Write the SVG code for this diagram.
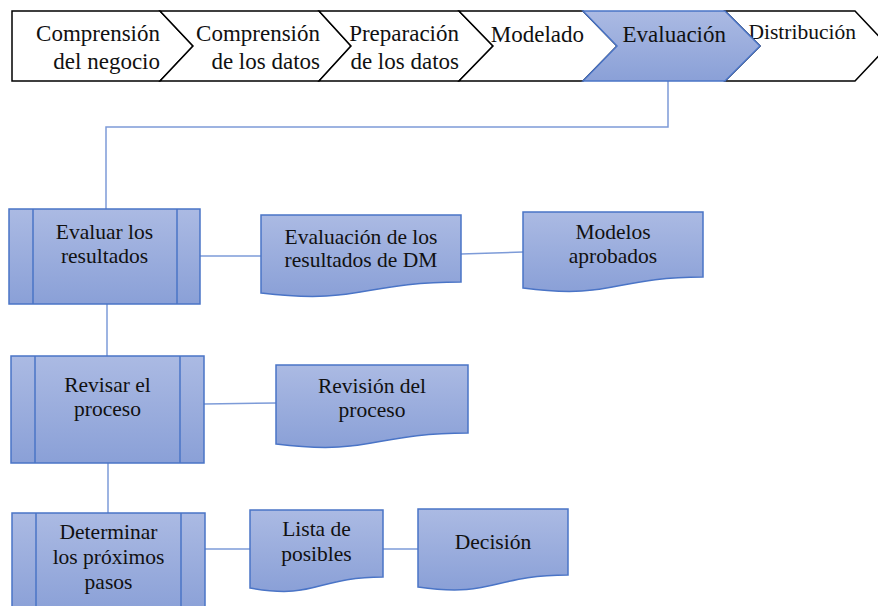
<svg xmlns="http://www.w3.org/2000/svg" width="878" height="606" viewBox="0 0 878 606" font-family="'Liberation Serif', 'Times New Roman', serif">
<defs>
<linearGradient id="g" x1="0" y1="0" x2="0" y2="1">
<stop offset="0" stop-color="#abbae3"/>
<stop offset="1" stop-color="#8aa0d7"/>
</linearGradient>
</defs>
<style>
.chev{fill:#ffffff;stroke:#000000;stroke-width:1.5;stroke-linejoin:miter}
.chev-on{fill:url(#g);stroke:#4a74c6;stroke-width:1.5}
.box{fill:url(#g);stroke:#4a74c6;stroke-width:1.5}
.bar{fill:none;stroke:#4a74c6;stroke-width:1.5}
.con{fill:none;stroke:#7d9bd8;stroke-width:1.5}
text{font-family:'Liberation Serif','Times New Roman',serif;fill:#111111}
.ct{font-size:23px;text-anchor:end}
.nt{font-size:21.5px;text-anchor:middle}
</style>
<rect width="878" height="606" fill="#ffffff"/>
<g id="connectors">
<polyline class="con" points="668,81 668,127 106,127 106,209"/>
<line class="con" x1="200" y1="256" x2="261" y2="256"/>
<line class="con" x1="461" y1="254" x2="523" y2="252"/>
<line class="con" x1="107" y1="304" x2="107" y2="356"/>
<line class="con" x1="204" y1="404" x2="276" y2="403"/>
<line class="con" x1="108" y1="463" x2="108" y2="513"/>
<line class="con" x1="205" y1="549" x2="250" y2="549"/>
<line class="con" x1="383" y1="549" x2="418" y2="549"/>
</g>
<g id="phase1">
<polygon class="chev" points="12,11 160,11 193,46 160,81 12,81"/>
<text class="ct" x="160" y="41">Comprensión</text>
<text class="ct" x="160" y="69">del negocio</text>
</g>
<g id="phase2">
<polygon class="chev" points="160,11 319,11 351,46 319,81 160,81 193,46"/>
<text class="ct" x="320" y="41">Comprensión</text>
<text class="ct" x="320" y="69">de los datos</text>
</g>
<g id="phase3">
<polygon class="chev" points="319,11 459,11 493,46 459,81 319,81 351,46"/>
<text class="ct" x="459" y="41">Preparación</text>
<text class="ct" x="459" y="69">de los datos</text>
</g>
<g id="phase4">
<polygon class="chev" points="459,11 583,11 617,46 583,81 459,81 493,46"/>
<text class="ct" x="584" y="42">Modelado</text>
</g>
<g id="phase6">
<polygon class="chev" points="725,11 855,11 888,46 855,81 725,81 760,46"/>
<text class="ct" x="856" y="39" style="font-size:21.5px">Distribución</text>
</g>
<g id="phase5">
<polygon class="chev-on" points="583,11 725,11 760,46 725,81 583,81 617,46"/>
<text class="ct" x="726" y="42">Evaluación</text>
</g>
<g id="evaluar">
<rect class="box" x="9" y="209" width="191" height="95"/>
<line class="bar" x1="33" y1="209" x2="33" y2="304"/>
<line class="bar" x1="177" y1="209" x2="177" y2="304"/>
<text class="nt" x="104.5" y="239">Evaluar los</text>
<text class="nt" x="104.5" y="263">resultados</text>
</g>
<g id="doc-evaluacion">
<path class="box" d="M261,215 H461 V282 C361,282 361,305 261,293 Z"/>
<text class="nt" x="361" y="244">Evaluación de los</text>
<text class="nt" x="361" y="267">resultados de DM</text>
</g>
<g id="doc-modelos">
<path class="box" d="M523,212 H703 V277 C613,277 613,300 523,288 Z"/>
<text class="nt" x="613" y="239">Modelos</text>
<text class="nt" x="613" y="263">aprobados</text>
</g>
<g id="revisar">
<rect class="box" x="11" y="356" width="193" height="107"/>
<line class="bar" x1="35" y1="356" x2="35" y2="463"/>
<line class="bar" x1="180" y1="356" x2="180" y2="463"/>
<text class="nt" x="107.5" y="392">Revisar el</text>
<text class="nt" x="107.5" y="416">proceso</text>
</g>
<g id="doc-revision">
<path class="box" d="M276,365 H468 V433 C372,433 372,456 276,444 Z"/>
<text class="nt" x="372" y="393">Revisión del</text>
<text class="nt" x="372" y="417">proceso</text>
</g>
<g id="determinar">
<rect class="box" x="12" y="513" width="193" height="100"/>
<line class="bar" x1="36" y1="513" x2="36" y2="613"/>
<line class="bar" x1="181" y1="513" x2="181" y2="613"/>
<text class="nt" x="108.5" y="539">Determinar</text>
<text class="nt" x="108.5" y="564">los próximos</text>
<text class="nt" x="108.5" y="589">pasos</text>
</g>
<g id="doc-lista">
<path class="box" d="M250,510 H383 V577 C316,577 316,600 250,588 Z"/>
<text class="nt" x="316.5" y="536">Lista de</text>
<text class="nt" x="316.5" y="561">posibles</text>
</g>
<g id="doc-decision">
<path class="box" d="M418,509 H568 V575 C493,575 493,598 418,587 Z"/>
<text class="nt" x="493" y="549">Decisión</text>
</g>
</svg>
